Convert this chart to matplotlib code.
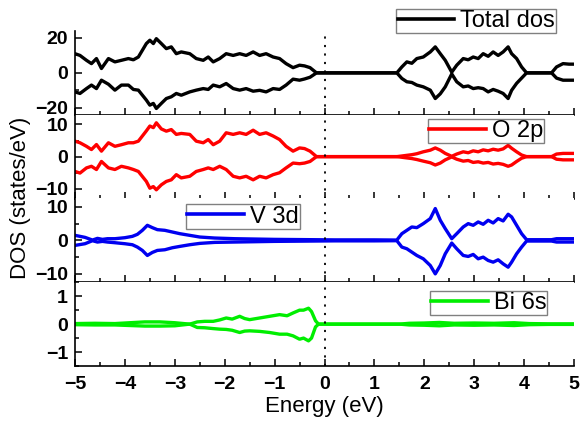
import matplotlib
matplotlib.use("Agg")
import matplotlib.pyplot as plt
from matplotlib.ticker import MultipleLocator

plt.rcParams['font.family'] = ['Liberation Sans', 'DejaVu Sans']

# ---------------- data ----------------
# energy points (eV) shared by Total dos and O 2p
energy_vo = [-5.0, -4.9, -4.77, -4.67, -4.57, -4.47, -4.33, -4.2, -4.07, -3.93,
             -3.83, -3.73, -3.57, -3.5, -3.43, -3.37, -3.27, -3.17, -3.07, -2.97,
             -2.87, -2.7, -2.57, -2.43, -2.33, -2.23, -2.1, -1.97, -1.83, -1.7,
             -1.57, -1.43, -1.3, -1.17, -1.03, -0.9, -0.77, -0.63, -0.5, -0.4,
             -0.29, -0.16,
             1.45, 1.55, 1.65, 1.75, 1.85, 1.98, 2.12, 2.22, 2.32, 2.42,
             2.55, 2.65, 2.78, 2.88, 2.98, 3.08, 3.18, 3.28, 3.38, 3.48,
             3.58, 3.68, 3.75, 3.85, 3.95, 4.05, 4.55, 4.65, 4.78, 4.9, 5.0]

total_up = [11, 10, 7.2, 5.3, 8.2, 2.5, 8.2, 6.3, 7.2, 8.2,
            7.5, 9.1, 16.8, 18.7, 16.8, 19.6, 16.8, 13.9, 14.9, 11,
            12, 11, 8.2, 7.2, 9.1, 6.3, 8.2, 11, 10, 11,
            10, 12, 10, 11, 9.1, 8.2, 5.3, 3.0, 4.4, 4.0,
            3.0, 0,
            0, 3.4, 6.3, 5.5, 8.2, 9.1, 12, 14.9, 11, 7.2,
            0.4, 4.4, 8.2, 7.5, 9.1, 8.2, 11, 9.5, 12, 10,
            12, 14.9, 11, 8.2, 3.4, 0, 0, 3.4, 5.3, 5.0, 5.0]
total_dn = [-10.9, -11.8, -9, -7, -9, -4.2, -6.5, -9.9, -7, -7,
            -9.5, -9.9, -15.6, -18.5, -17.5, -20.4, -17.5, -14.7, -13.7, -11.8,
            -12.8, -10.9, -9.9, -9, -9.5, -7, -8, -6.1, -9, -9.9,
            -9, -10.5, -10, -10.9, -9, -9.5, -7, -3.6, -4.2, -3.5,
            -2.5, 0,
            0, -3.2, -5.1, -5.5, -7, -8, -9.9, -14.7, -12, -8,
            -0.6, -5.1, -8, -7.5, -9, -8.5, -9, -10.9, -9.5, -10.5,
            -11.8, -14.7, -10, -6, -3, 0, 0, -3, -4.2, -4.2, -4.2]

o2p_up = [4.8, 4.3, 3.2, 2.2, 3.75, 1.7, 4.3, 3.2, 3.7, 4.3,
          4.3, 4.8, 8.0, 9.5, 9.0, 10.5, 8.6, 7.9, 8.4, 6.9,
          7.2, 6.9, 4.8, 4.3, 5.3, 3.7, 4.8, 7.4, 6.9, 7.4,
          6.9, 8.2, 6.9, 7.4, 6.4, 5.3, 3.2, 1.7, 2.7, 2.5,
          1.7, 0,
          0, 0.2, 0.4, 0.6, 0.9, 1.5, 2.0, 2.7, 2.0, 1.0,
          0.1, 0.8, 1.5, 1.2, 1.8, 1.5, 2.1, 1.8, 2.3, 2.0,
          2.4, 3.5, 2.6, 1.5, 0.5, 0, 0, 0.8, 1.0, 1.0, 1.0]
o2p_dn = [-4.6, -5.1, -3.5, -3.0, -4.0, -1.5, -3.5, -4.0, -3.0, -3.5,
          -4.0, -4.6, -7.7, -9.8, -9.3, -10.3, -8.75, -7.7, -7.2, -5.6,
          -6.6, -6.1, -4.6, -4.0, -3.5, -4.0, -3.0, -4.0, -6.1, -6.6,
          -6.1, -7.2, -6.1, -6.6, -5.6, -5.0, -3.5, -2.0, -2.2, -2.0,
          -1.5, 0,
          0, -0.2, -0.4, -0.6, -0.9, -1.4, -1.9, -2.6, -2.0, -1.0,
          -0.1, -0.8, -1.4, -1.2, -1.8, -1.6, -2.0, -1.8, -2.3, -2.1,
          -2.4, -3.0, -2.6, -1.5, -0.5, 0, 0, -0.8, -1.0, -1.0, -1.0]

# energy points (eV) for V 3d
energy_v = [-5.0, -4.8, -4.65, -4.55, -4.45, -4.35, -4.2, -4.0, -3.85, -3.75,
            -3.65, -3.55, -3.45, -3.35, -3.2, -3.05, -2.9, -2.7, -2.5, -2.2,
            -1.8, -1.4, -1.0, -0.6, -0.2, 0.2, 1.0,
            1.45, 1.55, 1.65, 1.75, 1.85, 1.98, 2.12, 2.22, 2.32, 2.42,
            2.55, 2.65, 2.78, 2.88, 2.98, 3.08, 3.18, 3.28, 3.38, 3.48,
            3.58, 3.68, 3.75, 3.85, 3.95, 4.05, 4.55, 4.65, 4.78, 4.9, 5.0]
v3d_up = [1.5, 0.9, 0.1, 0.6, 0.3, 0.5, 0.5, 0.8, 1.2, 1.8,
          3.0, 4.5, 3.8, 3.2, 3.0, 2.5, 2.0, 1.5, 1.0, 0.7,
          0.5, 0.4, 0.3, 0.25, 0.2, 0.15, 0.15,
          0.1, 2.0, 3.0, 4.0, 3.8, 5.0, 6.5, 9.5, 6.0, 3.5,
          0.5, 2.0, 4.0, 5.0, 4.5, 5.5, 4.8, 6.0, 5.2, 6.5,
          5.8, 7.8, 7.0, 4.5, 2.0, 0.2, 0.2, 0.5, 0.5, 0.5, 0.5]
v3d_dn = [-1.5, -1.0, -0.1, -0.5, -0.3, -0.5, -0.7, -1.0, -1.3, -2.0,
          -3.0, -4.5, -3.6, -3.0, -2.8, -2.2, -1.8, -1.3, -0.9, -0.6,
          -0.5, -0.4, -0.3, -0.25, -0.2, -0.15, -0.15,
          -0.1, -2.0, -2.5, -3.5, -4.5, -5.5, -7.5, -10.0, -7.5, -4.0,
          -0.8, -2.5, -4.5, -4.8, -4.2, -5.5, -5.0, -6.0, -6.5, -5.8,
          -7.0, -8.0, -6.5, -4.0, -2.0, -0.2, -0.2, -0.5, -0.5, -0.5, -0.5]

# energy points (eV) for Bi 6s
energy_bi = [-5.0, -4.6, -4.2, -3.9, -3.6, -3.3, -3.0, -2.7, -2.55, -2.4,
             -2.23, -2.1, -1.97, -1.85, -1.7, -1.6, -1.5, -1.3, -1.1, -0.9,
             -0.75, -0.63, -0.5, -0.42, -0.32, -0.26, -0.18, -0.12,
             1.5, 1.7, 2.0, 2.3, 2.6, 3.0, 3.4, 3.8, 4.1, 4.5, 5.0]
bi6s_up = [0.02, 0.03, 0.02, 0.05, 0.08, 0.08, 0.05, 0.0, 0.08, 0.1,
           0.1, 0.15, 0.22, 0.18, 0.28, 0.2, 0.16, 0.22, 0.28, 0.34,
           0.3, 0.4, 0.5, 0.5, 0.57, 0.45, 0.12, 0.0,
           0.0, 0.03, 0.04, 0.06, 0.03, 0.04, 0.03, 0.05, 0.02, 0.01, 0.01]
bi6s_dn = [-0.02, -0.03, -0.03, -0.05, -0.07, -0.07, -0.06, 0.0, -0.12, -0.13,
           -0.16, -0.18, -0.19, -0.22, -0.3, -0.25, -0.24, -0.26, -0.3, -0.36,
           -0.36, -0.42, -0.54, -0.5, -0.6, -0.5, -0.1, 0.0,
           0.0, -0.03, -0.04, -0.06, -0.03, -0.04, -0.03, -0.05, -0.02, -0.01, -0.01]

labels = ['Total dos', 'O 2p', 'V 3d', 'Bi 6s']
colors = ['black', '#ff0000', '#0000f0', '#00ee00']
ylims = [(-24, 24), (-13, 13), (-12.5, 12.5), (-1.5, 1.5)]
y_major = [20, 10, 10, 1]
xticks = [-5, -4, -3, -2, -1, 0, 1, 2, 3, 4, 5]

panels = [(energy_vo, total_up, total_dn),
          (energy_vo, o2p_up, o2p_dn),
          (energy_v, v3d_up, v3d_dn),
          (energy_bi, bi6s_up, bi6s_dn)]

# legend box centres in figure fraction
legend_pos = [(0.817, 0.950), (0.834, 0.690), (0.417, 0.488), (0.838, 0.284)]

# ---------------- figure ----------------
W, H = 583, 423
fig = plt.figure(figsize=(W / 100, H / 100), dpi=100)

left, right = 75 / W, 574 / W
top_px, bot_px = 31, 366
ph = (bot_px - top_px) / 4

for i, (e, up, dn) in enumerate(panels):
    y0 = 1 - (top_px + (i + 1) * ph) / H
    ax = fig.add_axes([left, y0, right - left, ph / H])
    ax.plot(e, up, color=colors[i], lw=2.4, solid_joinstyle='round', label=labels[i])
    ax.plot(e, dn, color=colors[i], lw=2.4, solid_joinstyle='round')
    ax.axvline(0, color='black', lw=1.3, ls=(0, (1.2, 3.5)))
    ax.set_xlim(-5, 5)
    ax.set_ylim(*ylims[i])
    ax.set_xticks(xticks)
    ax.xaxis.set_minor_locator(MultipleLocator(0.5))
    ax.yaxis.set_major_locator(MultipleLocator(y_major[i]))
    ax.yaxis.set_minor_locator(MultipleLocator(y_major[i] / 2))
    for s in ('top', 'right'):
        ax.spines[s].set_visible(False)
    for s in ('left', 'bottom'):
        ax.spines[s].set_linewidth(1.2)
    ax.tick_params(which='both', direction='in', width=1.1, top=False, right=False)
    ax.tick_params(which='major', length=5)
    ax.tick_params(which='minor', length=3)
    ax.tick_params(axis='y', labelsize=14, pad=5)
    ax.tick_params(axis='x', labelsize=14, pad=7)
    for t in ax.get_yticklabels() + ax.get_xticklabels():
        t.set_fontweight('bold')
    if i < 3:
        ax.tick_params(axis='x', labelbottom=False)
    leg = ax.legend(loc='center', bbox_to_anchor=legend_pos[i],
                    bbox_transform=fig.transFigure, fontsize=17,
                    handlelength=2.4, handletextpad=0.25, borderpad=0.05,
                    borderaxespad=0, fancybox=False, framealpha=1)
    leg.get_frame().set_edgecolor('#808080')
    leg.get_frame().set_linewidth(1.0)
    for ln in leg.get_lines():
        ln.set_linewidth(2.6)
    if i == 3:
        ax.set_xlabel('Energy (eV)', fontsize=16, labelpad=2)

fig.text(0.036, 0.532, 'DOS (states/eV)', rotation=90, fontsize=16,
         ha='center', va='center')

fig.savefig('out.png', dpi=100)
